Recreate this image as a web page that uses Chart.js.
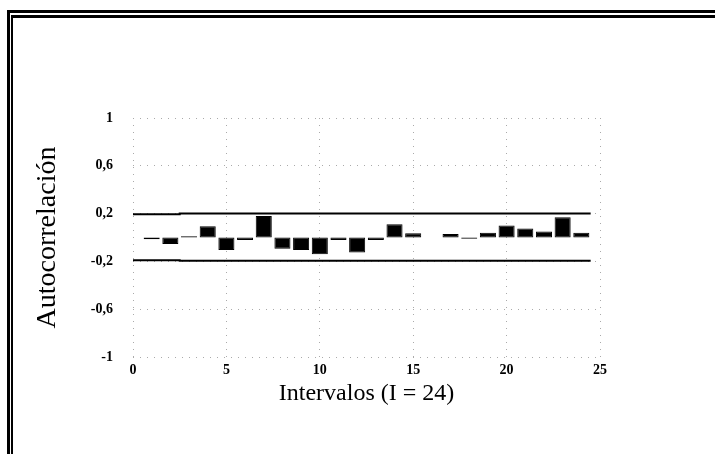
<!DOCTYPE html>
<html>
<head>
<meta charset="utf-8">
<script src="https://cdn.jsdelivr.net/npm/chart.js@4/dist/chart.umd.min.js"></script>
<style>
  body { margin: 0; background: #fff; overflow: hidden; }
  #wrap { position: absolute; left: 0; top: 0; width: 715px; height: 454px; }
  .frame { position: absolute; width: 900px; height: 700px; border-style: solid; border-color: #000; border-right: 0; border-bottom: 0; }
  #outer { left: 7px; top: 10px; border-left-width: 3px; border-top-width: 3px; }
  #inner { left: 11px; top: 15px; border-left-width: 2px; border-top-width: 3px; }
</style>
</head>
<body>
<div id="wrap"><canvas id="chart1"></canvas></div>
<div class="frame" id="outer"></div>
<div class="frame" id="inner"></div>
<script>
// autocorrelation per lag
var lags = [1, 2, 3, 4, 5, 6, 7, 8, 9, 10, 11, 12, 13, 14, 15, 16, 17, 18, 19, 20, 21, 22, 23, 24];
var acf = [-0.015, -0.055, 0.01, 0.095, -0.105, -0.02, 0.18, -0.095, -0.105, -0.14, -0.02, -0.125,
           -0.02, 0.11, 0.035, 0, 0.03, -0.01, 0.04, 0.1, 0.075, 0.05, 0.17, 0.04];

// confidence limits (stepped)
var bandX = [0, 2.5, 9.5, 24.5];
var bandUpper = [0.19, 0.195, 0.2, 0.2];
var bandLower = [-0.185, -0.19, -0.195, -0.195];

var xTicks = [0, 5, 10, 15, 20, 25];
var yTicks = [-1, -0.6, -0.2, 0.2, 0.6, 1];

function pts(xs, ys) {
  var out = [];
  for (var i = 0; i < xs.length; ++i) out.push({x: xs[i], y: ys[i]});
  return out;
}

var serif = "'Liberation Serif', 'Times New Roman', serif";
var gridColor = '#aaaaaa';

var chart = new Chart('chart1', {
  type: 'bar',
  data: {
    datasets: [
      {
        type: 'bar',
        data: pts(lags, acf),
        backgroundColor: '#000',
        borderColor: '#000',
        borderWidth: 1,
        borderSkipped: false,
        barPercentage: 0.86,
        categoryPercentage: 1
      },
      {
        type: 'line',
        data: pts(bandX, bandUpper),
        stepped: 'after',
        borderColor: '#000',
        borderWidth: 2,
        pointRadius: 0
      },
      {
        type: 'line',
        data: pts(bandX, bandLower),
        stepped: 'after',
        borderColor: '#000',
        borderWidth: 2,
        pointRadius: 0
      }
    ]
  },
  options: {
    responsive: true,
    maintainAspectRatio: false,
    animation: false,
    layout: { padding: { left: 27, top: 118, right: 115, bottom: 42 } },
    plugins: {
      legend: { display: false },
      tooltip: { enabled: false }
    },
    scales: {
      x: {
        type: 'linear',
        min: 0,
        max: 25,
        offset: false,
        afterBuildTicks: function(s) { s.ticks = xTicks.map(function(v) { return {value: v}; }); },
        afterFit: function(s) { s.height = 55; },
        grid: { color: gridColor, drawTicks: false, offset: false },
        border: { display: false, dash: [1, 6] },
        ticks: {
          padding: 5,
          color: '#000',
          font: { family: serif, size: 14, weight: 'bold' }
        },
        title: {
          display: true,
          text: 'Intervalos (I = 24)',
          color: '#000',
          padding: { top: 0, bottom: 4 },
          font: { family: serif, size: 24 }
        }
      },
      y: {
        min: -1,
        max: 1,
        afterBuildTicks: function(s) { s.ticks = yTicks.map(function(v) { return {value: v}; }); },
        afterFit: function(s) { s.width = 106; },
        grid: { color: gridColor, drawTicks: false },
        border: { display: false, dash: [1, 6] },
        ticks: {
          padding: 20,
          color: '#000',
          font: { family: serif, size: 14, weight: 'bold' },
          callback: function(v) { return String(Math.round(v * 10) / 10).replace('.', ','); }
        },
        title: {
          display: true,
          text: 'Autocorrelación',
          color: '#000',
          padding: { top: 4, bottom: 4 },
          font: { family: serif, size: 28 }
        }
      }
    }
  }
});
</script>
</body>
</html>
